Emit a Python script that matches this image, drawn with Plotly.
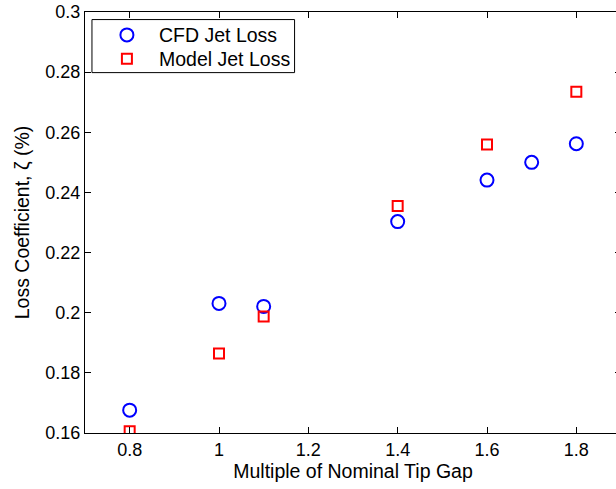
import plotly.graph_objects as go

# Tip-gap multiples and loss coefficients
gap_cfd = [0.8, 1.0, 1.1, 1.4, 1.6, 1.7, 1.8]
loss_cfd = [0.1676, 0.2031, 0.2021, 0.2303, 0.2441, 0.2500, 0.2562]

gap_model = [0.8, 1.0, 1.1, 1.4, 1.6, 1.8]
loss_model = [0.1606, 0.1864, 0.1987, 0.2355, 0.2559, 0.2735]

x_ticks = [0.8, 1.0, 1.2, 1.4, 1.6, 1.8]
x_ticktext = ["0.8", "1", "1.2", "1.4", "1.6", "1.8"]
y_ticks = [0.16, 0.18, 0.20, 0.22, 0.24, 0.26, 0.28, 0.30]
y_ticktext = ["0.16", "0.18", "0.2", "0.22", "0.24", "0.26", "0.28", "0.3"]

series_names = ["CFD Jet Loss", "Model Jet Loss"]
series_colors = ["#0000ff", "#ff0000"]

FONT = "Liberation Sans, Arial, Helvetica, sans-serif"
TICK_SIZE = 18
TITLE_SIZE = 19.5

fig = go.Figure()
fig.add_trace(go.Scatter(
    x=gap_cfd, y=loss_cfd, mode="markers", name=series_names[0],
    marker=dict(symbol="circle-open", size=13, color=series_colors[0],
                line=dict(width=2, color=series_colors[0])),
    showlegend=False,
))
fig.add_trace(go.Scatter(
    x=gap_model, y=loss_model, mode="markers", name=series_names[1],
    marker=dict(symbol="square-open", size=10, color=series_colors[1],
                line=dict(width=2, color=series_colors[1])),
    showlegend=False,
))

axis_common = dict(
    showline=True, linecolor="#000000", linewidth=1, mirror="ticks",
    ticks="inside", ticklen=6, tickcolor="#000000", tickwidth=1,
    showgrid=False, zeroline=False, ticklabeloverflow="allow",
    tickfont=dict(family=FONT, size=TICK_SIZE, color="#000000"),
)

# Boxed legend in the upper-left corner of the axes
legend_box = dict(x0=0.013, x1=0.391, y0=0.856, y1=0.982)
legend_rows_y = [0.9456, 0.8889]
legend_symbol_x = 0.0782
legend_text_x = 0.1341

shapes = [dict(type="rect", xref="paper", yref="paper", layer="above",
               fillcolor="white", line=dict(color="#000000", width=1),
               **legend_box)]
shapes.append(dict(type="circle", xref="paper", yref="paper",
                   xsizemode="pixel", ysizemode="pixel",
                   xanchor=legend_symbol_x, yanchor=legend_rows_y[0],
                   x0=-6.5, x1=6.5, y0=-6.5, y1=6.5, layer="above",
                   line=dict(color=series_colors[0], width=2)))
shapes.append(dict(type="rect", xref="paper", yref="paper",
                   xsizemode="pixel", ysizemode="pixel",
                   xanchor=legend_symbol_x, yanchor=legend_rows_y[1],
                   x0=-5, x1=5, y0=-5, y1=5, layer="above",
                   line=dict(color=series_colors[1], width=2)))

annotations = [dict(xref="paper", yref="paper", x=legend_text_x, y=ry,
                    xanchor="left", yanchor="middle", showarrow=False,
                    text=name, font=dict(family=FONT, size=TITLE_SIZE, color="#000000"))
               for name, ry in zip(series_names, legend_rows_y)]

fig.update_layout(
    width=624, height=489, autosize=False,
    margin=dict(l=85, r=2, t=10, b=56),
    paper_bgcolor="white", plot_bgcolor="white",
    font=dict(family=FONT, size=TICK_SIZE, color="#000000"),
    xaxis=dict(range=[0.7, 1.9], tickvals=x_ticks, ticktext=x_ticktext,
               title=dict(text="Multiple of Nominal Tip Gap", standoff=2,
                          font=dict(family=FONT, size=TITLE_SIZE, color="#000000")),
               **axis_common),
    yaxis=dict(range=[0.16, 0.30], tickvals=y_ticks, ticktext=y_ticktext,
               title=dict(text="Loss Coefficient, \u03b6 (%)", standoff=10,
                          font=dict(family=FONT, size=TITLE_SIZE, color="#000000")),
               **axis_common),
    shapes=shapes,
    annotations=annotations,
    showlegend=False,
)

fig.write_html("out.html", post_script="document.body.style.overflow='hidden';")
